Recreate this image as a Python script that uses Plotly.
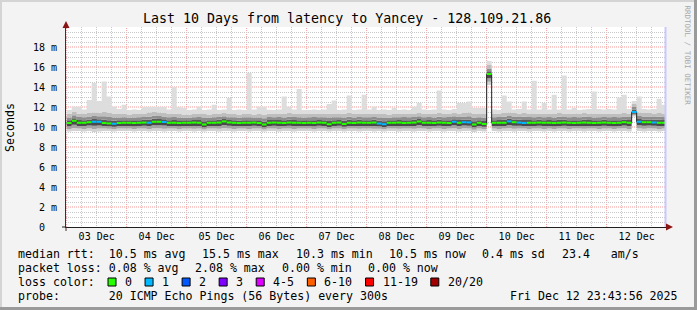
import plotly.graph_objects as go
import pandas as pd

# ---------------- data ----------------
t_start = "2025-12-03 00:00"      # first 2-hour consolidation interval
x_range = ["2025-12-02 23:44:00", "2025-12-12 23:44:00"]

# median rtt per 2-hour interval (ms), one row per day
median_ms = [
    10.40, 10.62, 10.42, 10.42, 10.48, 10.52, 10.52, 10.40, 10.36, 10.32, 10.40, 10.42,
    10.42, 10.40, 10.42, 10.44, 10.42, 10.52, 10.52, 10.50, 10.42, 10.42, 10.40, 10.42,
    10.42, 10.44, 10.42, 10.25, 10.42, 10.42, 10.44, 10.56, 10.45, 10.42, 10.40, 10.42,
    10.42, 10.44, 10.40, 10.25, 10.42, 10.44, 10.42, 10.40, 10.44, 10.42, 10.42, 10.40,
    10.42, 10.40, 10.44, 10.42, 10.28, 10.42, 10.44, 10.30, 10.42, 10.40, 10.44, 10.42,
    10.42, 10.44, 10.35, 10.28, 10.42, 10.42, 10.44, 10.40, 10.42, 10.44, 10.55, 10.42,
    10.42, 10.40, 10.44, 10.42, 10.40, 10.52, 10.42, 10.48, 10.46, 10.25, 10.42, 10.30,
    15.30, 10.42, 10.42, 10.42, 10.56, 10.48, 10.44, 10.40, 10.42, 10.42, 10.44, 10.42,
    10.42, 10.40, 10.42, 10.44, 10.42, 10.40, 10.42, 10.44, 10.42, 10.40, 10.42, 10.44,
    10.42, 10.40, 10.42, 10.48, 10.42, 11.50, 10.52, 10.48, 10.48, 10.45, 10.42, 10.42,
]

# lost pings (of 20) per interval
loss_count = [
    0, 0, 0, 0, 0, 1, 1, 0, 0, 1, 0, 0,
    0, 0, 0, 0, 1, 0, 0, 1, 0, 0, 0, 0,
    0, 0, 0, 0, 0, 0, 0, 0, 0, 0, 0, 0,
    0, 0, 0, 0, 0, 0, 0, 0, 0, 0, 0, 0,
    0, 0, 0, 0, 0, 0, 0, 0, 0, 0, 0, 0,
    0, 0, 1, 1, 0, 0, 0, 0, 0, 0, 0, 0,
    0, 0, 0, 0, 0, 1, 0, 1, 1, 0, 0, 0,
    0, 0, 0, 0, 1, 0, 1, 1, 0, 0, 0, 0,
    0, 0, 0, 0, 0, 0, 0, 0, 0, 0, 0, 0,
    0, 0, 0, 0, 0, 1, 1, 0, 0, 1, 0, 0,
]

# smoke: lowest ping, upper body of smoke, and highest ping per interval (ms)
smoke_low = [
    9.55, 9.60, 9.60, 9.55, 9.60, 9.50, 9.55, 9.60, 9.60, 9.55, 9.60, 9.60,
    9.60, 9.55, 9.60, 9.60, 9.55, 9.60, 9.60, 9.55, 9.60, 9.60, 9.55, 9.60,
    9.60, 9.55, 9.60, 9.55, 9.60, 9.60, 9.55, 9.60, 9.60, 9.55, 9.60, 9.60,
    9.55, 9.60, 9.60, 9.55, 9.60, 9.60, 9.55, 9.60, 9.60, 9.55, 9.60, 9.60,
    9.60, 9.55, 9.60, 9.60, 9.55, 9.60, 9.60, 9.55, 9.60, 9.60, 9.55, 9.60,
    9.60, 9.55, 9.60, 9.55, 9.60, 9.60, 9.55, 9.60, 9.60, 9.55, 9.60, 9.60,
    9.55, 9.60, 9.60, 9.55, 9.60, 9.60, 9.55, 9.60, 9.60, 9.50, 9.60, 9.55,
    14.20, 9.60, 9.55, 9.60, 9.60, 9.55, 9.60, 9.60, 9.55, 9.60, 9.60, 9.55,
    9.60, 9.55, 9.60, 9.60, 9.55, 9.60, 9.60, 9.55, 9.60, 9.60, 9.55, 9.60,
    9.60, 9.55, 9.60, 9.60, 9.55, 11.05, 9.60, 9.55, 9.60, 9.60, 9.55, 9.60,
]
smoke_high = [
    11.30, 11.50, 11.35, 11.30, 11.40, 11.45, 11.40, 11.50, 11.40, 11.35, 11.30, 11.30,
    11.25, 11.30, 11.30, 11.35, 11.45, 11.50, 11.45, 11.40, 11.30, 11.35, 11.30, 11.25,
    11.25, 11.30, 11.35, 11.30, 11.25, 11.30, 11.35, 11.40, 11.30, 11.30, 11.25, 11.30,
    11.30, 11.25, 11.30, 11.25, 11.35, 11.30, 11.35, 11.30, 11.40, 11.35, 11.30, 11.30,
    11.30, 11.35, 11.30, 11.30, 11.35, 11.30, 11.30, 11.35, 11.40, 11.30, 11.35, 11.30,
    11.30, 11.35, 11.30, 11.30, 11.25, 11.30, 11.30, 11.35, 11.30, 11.35, 11.40, 11.30,
    11.35, 11.30, 11.40, 11.30, 11.35, 11.40, 11.35, 11.40, 11.45, 11.35, 11.30, 11.30,
    16.20, 11.30, 11.35, 11.40, 11.45, 11.40, 11.35, 11.40, 11.35, 11.30, 11.35, 11.30,
    11.35, 11.30, 11.40, 11.35, 11.30, 11.35, 11.30, 11.40, 11.35, 11.30, 11.30, 11.35,
    11.30, 11.35, 11.30, 11.40, 11.35, 12.30, 11.45, 11.40, 11.40, 11.35, 11.40, 11.35,
]
smoke_max = [
    11.70, 12.06, 12.06, 11.75, 12.70, 14.40, 12.60, 14.56, 13.06, 12.06, 11.80, 12.23,
    11.70, 11.75, 11.70, 12.00, 12.00, 12.00, 12.00, 12.00, 11.75, 14.00, 12.00, 11.90,
    11.70, 11.75, 12.06, 11.70, 11.75, 12.23, 11.70, 11.75, 12.90, 11.70, 11.75, 11.70,
    15.40, 11.75, 12.06, 12.06, 11.73, 11.70, 11.75, 13.06, 12.06, 11.75, 13.80, 11.70,
    11.70, 11.75, 11.70, 11.75, 12.30, 12.66, 11.70, 11.75, 13.16, 11.70, 11.75, 13.23,
    11.75, 12.06, 11.70, 11.75, 11.70, 11.90, 11.70, 11.75, 11.70, 12.06, 12.40, 11.75,
    11.70, 11.75, 13.66, 11.75, 11.70, 11.80, 12.40, 12.40, 12.56, 11.90, 11.90, 11.90,
    16.60, 11.75, 11.70, 13.16, 12.56, 11.75, 11.80, 12.56, 11.75, 14.63, 11.75, 12.40,
    11.75, 13.23, 11.75, 15.16, 11.75, 11.90, 11.70, 11.75, 11.80, 13.56, 11.80, 11.75,
    11.80, 11.75, 12.96, 13.23, 11.80, 12.60, 13.06, 11.80, 11.75, 11.80, 12.83, 12.23,
]

y_tick_values = [0, 2, 4, 6, 8, 10, 12, 14, 16, 18]
y_tick_labels = ["0\u00a0\u00a0", "2 m", "4 m", "6 m", "8 m", "10 m", "12 m", "14 m", "16 m", "18 m"]

loss_labels = ["0", "1", "2", "3", "4-5", "6-10", "11-19", "20/20"]
loss_colors = ["#26ff00", "#00b8ff", "#0059ff", "#7e00ff", "#dd00ff", "#ff5e00", "#ff0000", "#a10000"]

title_text = "Last 10 Days from latency to Yancey - 128.109.21.86"
rtt_items = ["median rtt:  10.5 ms avg", "15.5 ms max", "10.3 ms min", "10.5 ms now", "0.4 ms sd", "23.4   am/s"]
loss_items = ["packet loss: 0.08 % avg", "2.08 % max", "0.00 % min", "0.00 % now"]
probe_text = "probe:       20 ICMP Echo Pings (56 Bytes) every 300s"
stamp_text = "Fri Dec 12 23:43:56 2025"

# ---------------- layout constants ----------------
WIDTH, HEIGHT = 697, 310
L, T, PW, PH = 66, 27, 600, 200
MONO = "DejaVu Sans Mono"
CHAR_W = 7.0
ITEM_GAP = 16.3


def px(x):
    return (x - L) / PW


def py(y):
    return (T + PH - y) / PH


def nb(s):
    return s.replace(" ", "\u00a0")


n = len(median_ms)
edges = pd.date_range(t_start, periods=n + 1, freq="2h")


def stepped(v):
    return list(v) + [v[-1]]


# smoke shading bands derived from the per-interval distribution
def mix(a, b, f):
    return [x + f * (y - x) for x, y in zip(a, b)]


levels = [
    smoke_low,
    mix(smoke_low, median_ms, 0.3),
    mix(smoke_low, median_ms, 0.62),
    median_ms,
    mix(median_ms, smoke_high, 0.3),
    mix(median_ms, smoke_high, 0.62),
    smoke_high,
    smoke_max,
]
band_colors = [None, "#d2d2d2", "#a4a4a4", "#4a4a4a", "#5a5a5a", "#8e8e8e", "#bebebe", "#dddddd"]

fig = go.Figure()
for k, lev in enumerate(levels):
    fig.add_trace(go.Scatter(
        x=edges, y=stepped(lev), mode="lines",
        line=dict(width=0, shape="hv"),
        fill="tonexty" if k > 0 else None,
        fillcolor=band_colors[k] if k > 0 else None,
        hoverinfo="skip", showlegend=False,
    ))

# dark median line (shows the vertical jumps)
fig.add_trace(go.Scatter(
    x=edges, y=stepped(median_ms), mode="lines",
    line=dict(width=1, color="#202020", shape="hv"),
    hoverinfo="skip", showlegend=False,
))

# loss-coloured median segments
for cls in sorted(set(loss_count)):
    xs, ys = [], []
    for i in range(n):
        if loss_count[i] == cls:
            xs += [edges[i], edges[i + 1], None]
            ys += [median_ms[i], median_ms[i], None]
    fig.add_trace(go.Scatter(
        x=xs, y=ys, mode="lines",
        line=dict(width=2, color=loss_colors[cls]),
        hoverinfo="skip", showlegend=False,
    ))

MAJOR = "#f59a9a"
MINOR = "#c8c8c8"
DASH = "1px,1px"

# minor grid positions that do not coincide with major grid lines
x_minor = [t for t in pd.date_range("2025-12-02 18:00", "2025-12-13 00:00", freq="6h") if t.hour != 0]
y_minor = [k * 0.5 for k in range(41) if k % 4 != 0]
x_major = list(pd.date_range("2025-12-03", "2025-12-12", freq="1D"))
y_major = [v for v in y_tick_values if v > 0]

fig.update_layout(
    width=WIDTH, height=HEIGHT,
    margin=dict(l=L, r=WIDTH - L - PW, t=T, b=HEIGHT - T - PH, pad=0),
    paper_bgcolor="#f3f3f3", plot_bgcolor="#ffffff",
    showlegend=False,
    font=dict(family=MONO, color="#000000"),
    xaxis=dict(
        type="date", range=x_range, fixedrange=True,
        tick0="2025-12-03", dtick=86400000, tickformat="%d %b",
        ticklabelmode="period", ticks="",
        tickfont=dict(family=MONO, size=10, color="#000000"),
        showgrid=False,
        minor=dict(tickmode="array", tickvals=x_minor, showgrid=True,
                   gridcolor=MINOR, griddash=DASH, gridwidth=1),
        showline=True, linecolor="#202020", linewidth=1, zeroline=False,
    ),
    yaxis=dict(
        range=[0, 20], fixedrange=True,
        tickmode="array", tickvals=y_tick_values, ticktext=y_tick_labels,
        ticks="", ticklabelstandoff=6,
        tickfont=dict(family=MONO, size=10, color="#000000"),
        showgrid=False,
        minor=dict(tickmode="array", tickvals=y_minor, showgrid=True,
                   gridcolor=MINOR, griddash=DASH, gridwidth=1),
        showline=True, linecolor="#4a2a2a", linewidth=1, zeroline=False,
    ),
)

shapes = []
# major grid (red dotted), between grid and traces
for t in x_major:
    shapes.append(dict(type="line", xref="x", yref="paper", x0=t, x1=t, y0=0, y1=1,
                       line=dict(color=MAJOR, width=1, dash=DASH), layer="between"))
for v in y_major:
    shapes.append(dict(type="line", xref="paper", yref="y", x0=0, x1=1, y0=v, y1=v,
                       line=dict(color=MAJOR, width=1, dash=DASH), layer="between"))
# frame of the image
shapes.append(dict(type="rect", xref="paper", yref="paper", x0=px(0), x1=px(WIDTH), y0=py(2), y1=py(0),
                   fillcolor="#d4d4d4", line=dict(width=0), layer="above"))
shapes.append(dict(type="rect", xref="paper", yref="paper", x0=px(0), x1=px(2), y0=py(HEIGHT), y1=py(0),
                   fillcolor="#d4d4d4", line=dict(width=0), layer="above"))
shapes.append(dict(type="rect", xref="paper", yref="paper", x0=px(WIDTH - 3), x1=px(WIDTH), y0=py(HEIGHT), y1=py(0),
                   fillcolor="#9a9a9a", line=dict(width=0), layer="above"))
shapes.append(dict(type="rect", xref="paper", yref="paper", x0=px(0), x1=px(WIDTH), y0=py(HEIGHT), y1=py(HEIGHT - 3),
                   fillcolor="#9a9a9a", line=dict(width=0), layer="above"))
# "now" marker at right edge
shapes.append(dict(type="line", xref="paper", yref="paper", x0=px(665.5), x1=px(665.5), y0=0, y1=1,
                   line=dict(color="#c8c8ff", width=2), layer="above"))
# axis stubs past the origin
ax_y = T + PH
shapes.append(dict(type="line", xref="paper", yref="paper", x0=px(L - 4), x1=px(L), y0=0, y1=0,
                   line=dict(color="#202020", width=1), layer="above"))
shapes.append(dict(type="line", xref="paper", yref="paper", x0=0, x1=0, y0=py(ax_y + 4), y1=0,
                   line=dict(color="#4a2a2a", width=1), layer="above"))
# axis arrows
shapes.append(dict(type="path", xref="paper", yref="paper", layer="above",
                   path=f"M {px(666)} {py(ax_y - 3.5)} L {px(673)} {py(ax_y)} L {px(666)} {py(ax_y + 3.5)} Z",
                   fillcolor="#8b1515", line=dict(width=0)))
shapes.append(dict(type="path", xref="paper", yref="paper", layer="above",
                   path=f"M {px(L - 3.5)} {py(28)} L {px(L)} {py(21)} L {px(L + 3.5)} {py(28)} Z",
                   fillcolor="#8b1515", line=dict(width=0)))

ann = []
# statistics rows, laid out item by item
for row_y, items in ((254.3, rtt_items), (268.3, loss_items)):
    cur = 16.0
    for it in items:
        ann.append(dict(text=nb(it), x=px(cur), y=py(row_y), xanchor="left", yanchor="middle"))
        cur += len(it) * CHAR_W + ITEM_GAP

# loss colour legend swatches
ann.append(dict(text=nb("loss color:"), x=px(16), y=py(282.3), xanchor="left", yanchor="middle"))
cursor = 108.0
for lab, col in zip(loss_labels, loss_colors):
    shapes.append(dict(type="rect", xref="paper", yref="paper", layer="above",
                       x0=px(cursor), x1=px(cursor + 8), y0=py(286), y1=py(278),
                       fillcolor=col, line=dict(color="#000000", width=1)))
    ann.append(dict(text=lab, x=px(cursor + 15), y=py(282.3), xanchor="left", yanchor="middle"))
    cursor += 15 + len(lab) * 7.05 + 15

ann.append(dict(text=title_text, x=px(347), y=py(19), xanchor="center", yanchor="middle", size=13.3))
ann.append(dict(text="Seconds", x=px(10), y=py(128), xanchor="center", yanchor="middle", angle=-90))
ann.append(dict(text=nb(probe_text), x=px(16), y=py(296), xanchor="left", yanchor="middle"))
ann.append(dict(text=nb(stamp_text), x=px(680), y=py(296), xanchor="right", yanchor="middle"))
ann.append(dict(text=nb("RRDTOOL / TOBI OETIKER"), x=px(687.5), y=py(55), xanchor="center",
                yanchor="middle", angle=90, size=7.5, color="#a8a8a8"))

annotations = []
for a in ann:
    annotations.append(dict(
        text=a["text"], x=a["x"], y=a["y"], xref="paper", yref="paper",
        xanchor=a["xanchor"], yanchor=a["yanchor"], showarrow=False,
        textangle=a.get("angle", 0),
        font=dict(family=MONO, size=a.get("size", 11.6), color=a.get("color", "#000000")),
    ))

fig.update_layout(shapes=shapes, annotations=annotations)
fig.write_html("out.html")
